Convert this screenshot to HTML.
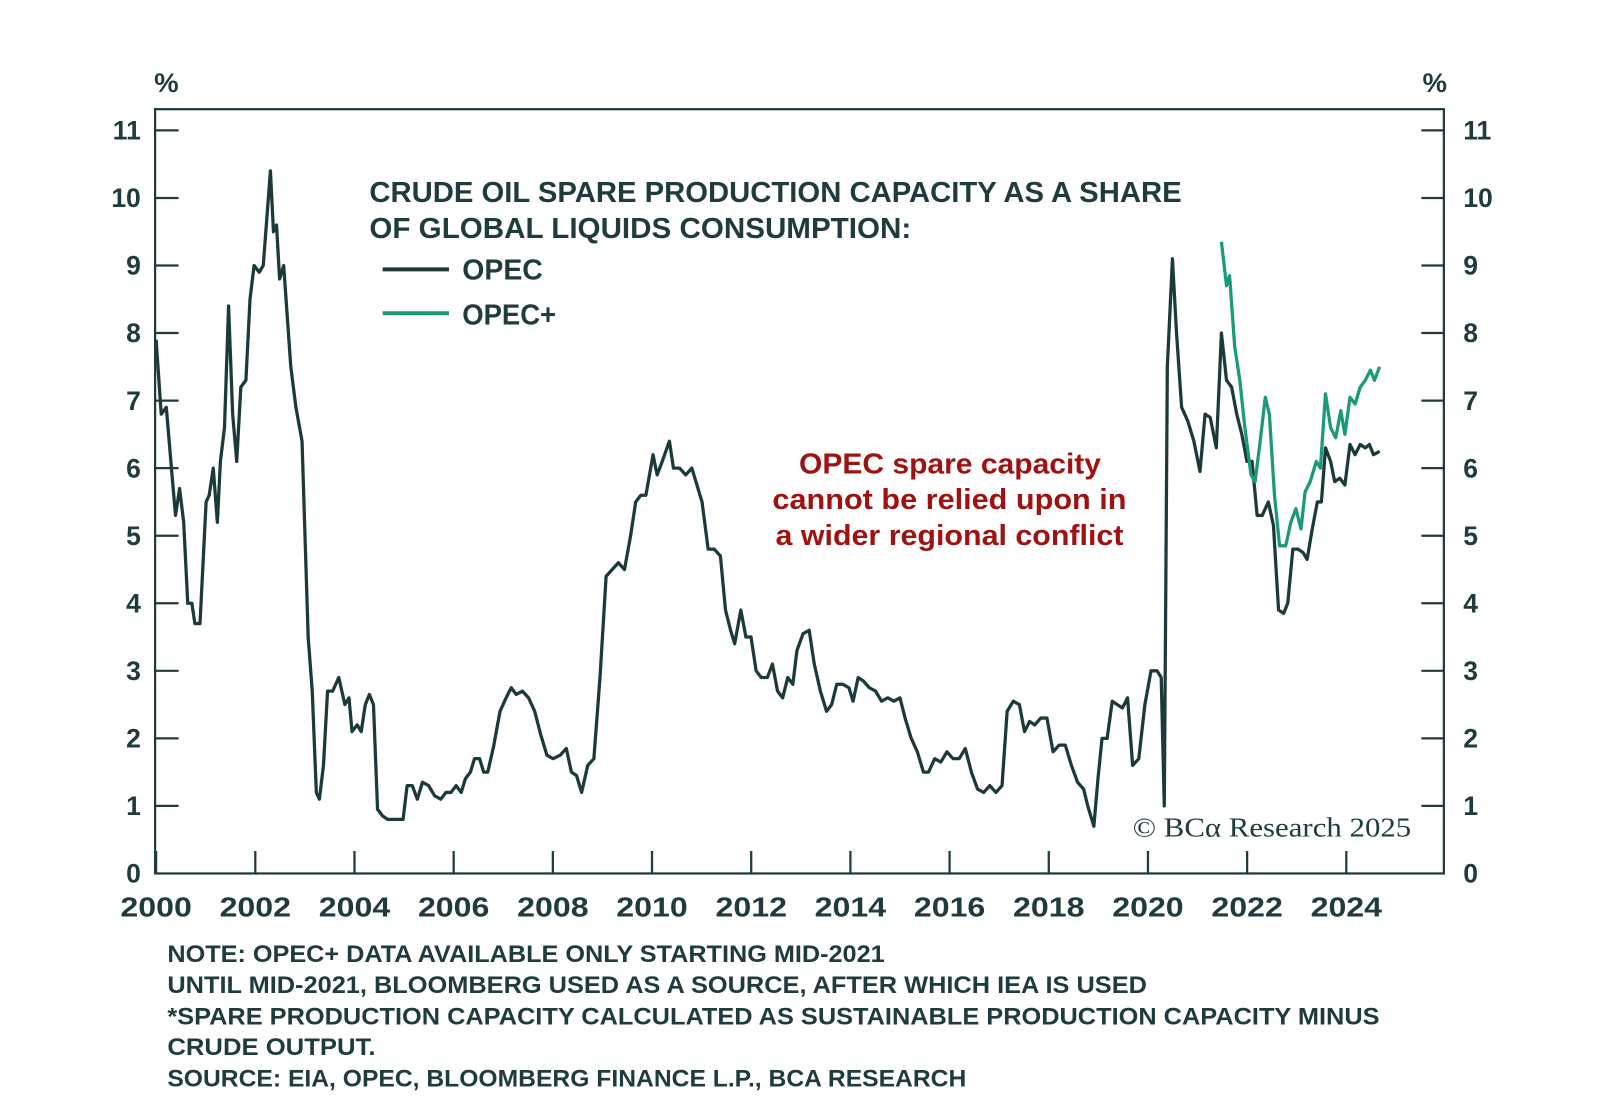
<!DOCTYPE html>
<html><head><meta charset="utf-8"><style>
html,body{margin:0;padding:0;background:#fff;}
svg{display:block;}
text{font-family:"Liberation Sans",sans-serif;fill:#1f3b3c;}
</style></head><body>
<svg id="s" width="1600" height="1106" viewBox="0 0 1600 1106" xmlns="http://www.w3.org/2000/svg">
<g transform="scale(1.0204)">
<g id="ax" stroke="#1f3b3c" stroke-width="2.2" fill="none">
<rect x="152" y="107" width="1263" height="749"/>
</g>
<text x="151" y="90" font-size="26" font-weight="bold" textLength="24" lengthAdjust="spacingAndGlyphs">%</text>
<text x="1394" y="90" font-size="26" font-weight="bold" textLength="24" lengthAdjust="spacingAndGlyphs">%</text>
<g id="lab" font-size="26" font-weight="bold"></g>
<g font-weight="bold" font-size="28">
<text x="362" y="198" textLength="796" lengthAdjust="spacingAndGlyphs">CRUDE OIL SPARE PRODUCTION CAPACITY AS A SHARE</text>
<text x="362" y="233" textLength="531" lengthAdjust="spacingAndGlyphs">OF GLOBAL LIQUIDS CONSUMPTION:</text>
<text x="453" y="274" textLength="79" lengthAdjust="spacingAndGlyphs">OPEC</text>
<text x="453" y="318" textLength="92" lengthAdjust="spacingAndGlyphs">OPEC+</text>
</g>
<line x1="375" y1="264" x2="440" y2="264" stroke="#1d3a3a" stroke-width="4"/>
<line x1="375" y1="307" x2="440" y2="307" stroke="#1a9a78" stroke-width="4"/>
<g font-size="28" font-weight="bold">
<text x="783" y="464" style="fill:#a01212" textLength="296" lengthAdjust="spacingAndGlyphs">OPEC spare capacity</text>
<text x="757" y="499" style="fill:#a01212" textLength="347" lengthAdjust="spacingAndGlyphs">cannot be relied upon in</text>
<text x="760" y="534" style="fill:#a01212" textLength="341" lengthAdjust="spacingAndGlyphs">a wider regional conflict</text>
</g>
<text x="1110" y="820" font-size="27" style="font-family:'Liberation Serif',serif" textLength="273" lengthAdjust="spacingAndGlyphs">© BCα Research 2025</text>
<g font-size="24" font-weight="bold">
<text x="164" y="943" textLength="703" lengthAdjust="spacingAndGlyphs">NOTE: OPEC+ DATA AVAILABLE ONLY STARTING MID-2021</text>
<text x="164" y="973" textLength="960" lengthAdjust="spacingAndGlyphs">UNTIL MID-2021, BLOOMBERG USED AS A SOURCE, AFTER WHICH IEA IS USED</text>
<text x="164" y="1004" textLength="1188" lengthAdjust="spacingAndGlyphs">*SPARE PRODUCTION CAPACITY CALCULATED AS SUSTAINABLE PRODUCTION CAPACITY MINUS</text>
<text x="164" y="1034" textLength="204" lengthAdjust="spacingAndGlyphs">CRUDE OUTPUT.</text>
<text x="164" y="1065" textLength="783" lengthAdjust="spacingAndGlyphs">SOURCE: EIA, OPEC, BLOOMBERG FINANCE L.P., BCA RESEARCH</text>
</g>
<path id="p1" fill="none" stroke="#1d3a3a" stroke-width="3.2" stroke-linejoin="round"/>
<path id="p2" fill="none" stroke="#1a9a78" stroke-width="3.2" stroke-linejoin="round"/>
</g>
</svg>
<script>
var ns="http://www.w3.org/2000/svg";
function Y(v){return 856-v*66.2;}
var ax=document.getElementById("ax"),lab=document.getElementById("lab");
function el(t,a,p,txt){var e=document.createElementNS(ns,t);for(var k in a)e.setAttribute(k,a[k]);if(txt!=null)e.textContent=txt;p.appendChild(e);return e;}
for(var v=0;v<=11;v++){var y=Y(v);
if(v>0){el("line",{x1:152,y1:y,x2:175,y2:y},ax);el("line",{x1:1393,y1:y,x2:1415,y2:y},ax);}
el("text",{x:138,y:y+9,"text-anchor":"end"},lab,String(v));
el("text",{x:1434,y:y+9},lab,String(v));}
for(var i=0;i<=12;i++){var x=153+i*2*48.6;el("line",{x1:x,y1:834,x2:x,y2:856},ax);
el("text",{x:x-35,y:898,textLength:70,lengthAdjust:"spacingAndGlyphs","font-size":27},lab,String(2000+2*i));}
var d1=[153,7.9,158,6.8,163,6.9,168,6.0,172,5.3,176,5.7,180,5.2,184,4.0,188,4.0,191,3.7,196,3.7,199,4.6,202,5.5,205,5.6,209,6.0,213,5.2,216,6.1,220,6.6,224,8.4,228,6.8,232,6.1,236,7.2,241,7.3,245,8.5,249,9.0,254,8.9,258,9.0,265,10.4,268,9.5,271,9.6,274,8.8,278,9.0,285,7.5,290,6.9,296,6.4,302,3.5,306,2.7,310,1.2,313,1.1,317,1.6,321,2.7,326,2.7,332,2.9,338,2.5,342,2.6,345,2.1,350,2.2,354,2.1,358,2.5,362,2.65,366,2.5,370,0.95,375,0.85,380,0.8,390,0.8,395,0.8,399,1.3,404,1.3,409,1.1,414,1.35,420,1.3,426,1.15,432,1.1,437,1.2,442,1.2,447,1.3,452,1.2,456,1.4,461,1.5,465,1.7,470,1.7,474,1.5,478,1.5,484,1.9,490,2.4,496,2.6,501,2.75,506,2.65,512,2.7,518,2.6,524,2.4,530,2.05,536,1.75,542,1.7,549,1.75,555,1.85,560,1.5,565,1.45,570,1.2,576,1.6,582,1.7,588,2.9,594,4.4,600,4.5,606,4.6,612,4.5,618,5.0,623,5.5,628,5.6,633,5.6,640,6.2,644,5.9,649,6.1,656,6.4,660,6.0,666,6.0,672,5.9,678,6.0,682,5.8,688,5.5,694,4.8,700,4.8,706,4.7,711,3.9,716,3.6,720,3.4,726,3.9,731,3.5,736,3.5,741,3.0,746,2.9,752,2.9,757,3.1,762,2.7,767,2.6,772,2.9,777,2.8,781,3.3,787,3.55,793,3.6,798,3.1,804,2.7,810,2.4,815,2.5,820,2.8,826,2.8,832,2.75,836,2.55,841,2.9,846,2.85,852,2.75,858,2.7,864,2.55,870,2.6,876,2.55,882,2.6,887,2.3,893,2.0,899,1.8,905,1.5,910,1.5,916,1.7,922,1.65,928,1.8,934,1.7,940,1.7,946,1.85,952,1.5,958,1.25,964,1.2,970,1.3,976,1.2,982,1.3,987,2.4,993,2.55,999,2.5,1004,2.1,1009,2.25,1014,2.2,1020,2.3,1026,2.3,1032,1.8,1038,1.9,1044,1.9,1050,1.6,1056,1.35,1062,1.25,1066,1.0,1072,0.7,1076,1.4,1080,2.0,1085,2.0,1090,2.55,1095,2.5,1100,2.45,1105,2.6,1110,1.6,1116,1.7,1122,2.5,1128,3.0,1134,3.0,1138,2.9,1141,1.0,1144,7.5,1149,9.1,1153,8.0,1158,6.9,1164,6.7,1170,6.4,1176,5.95,1181,6.8,1186,6.75,1192,6.3,1197,8.0,1202,7.3,1207,7.2,1212,6.8,1217,6.5,1222,6.1,1227,6.1,1232,5.3,1237,5.3,1243,5.5,1248,5.15,1253,3.9,1258,3.85,1262,4.0,1267,4.8,1272,4.8,1277,4.75,1281,4.65,1286,5.1,1291,5.5,1295,5.5,1299,6.3,1304,6.1,1308,5.8,1313,5.85,1318,5.75,1323,6.35,1328,6.2,1333,6.35,1338,6.3,1342,6.35,1346,6.2,1352,6.25];
var d2=[1197,9.35,1202,8.7,1205,8.85,1210,7.8,1215,7.3,1220,6.6,1226,5.9,1230,5.8,1235,6.4,1240,7.05,1244,6.8,1249,5.6,1254,4.85,1260,4.85,1265,5.2,1270,5.4,1275,5.1,1279,5.65,1284,5.8,1290,6.1,1294,6.0,1299,7.1,1304,6.6,1309,6.45,1314,6.85,1318,6.5,1323,7.05,1328,6.95,1333,7.2,1338,7.3,1343,7.45,1347,7.3,1352,7.5];
function P(d){var s="";for(var i=0;i<d.length;i+=2)s+=(i?"L":"M")+d[i]+","+Y(d[i+1]).toFixed(1);return s;}
document.getElementById("p1").setAttribute("d",P(d1));
document.getElementById("p2").setAttribute("d",P(d2));
</script>
</body></html>
